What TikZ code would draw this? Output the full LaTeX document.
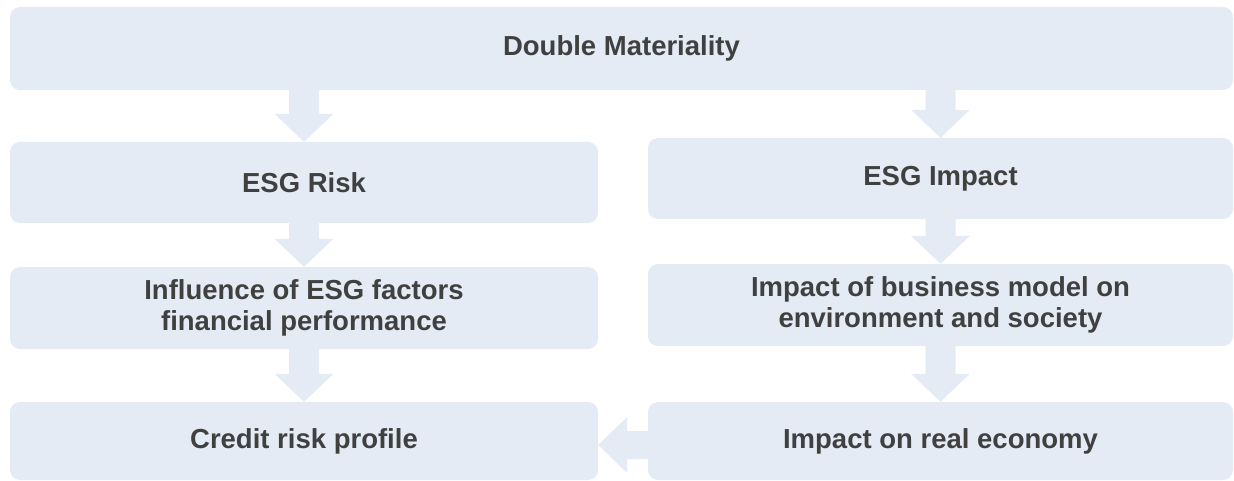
\documentclass[tikz,border=0pt]{standalone}
\usepackage{fontspec}
\setmainfont{Liberation Sans}
\usetikzlibrary{calc}
\definecolor{boxfill}{HTML}{E4EBF4}
\definecolor{ink}{HTML}{404040}
\tikzset{
  card/.style={fill=boxfill, draw=none, rounded corners=10pt, inner sep=0pt,
    align=center, text=ink, font=\fontsize{27.5}{31}\selectfont\bfseries},
  flow/.style={fill=boxfill, draw=none},
}
% broad downward block arrow from the bottom of #1 to the top of #2
\newcommand\fatdown[2]{%
  \fill[flow] let \p1=(#1.south), \p2=(#2.north) in
    (\x2-15pt,\y1) -- (\x2+15pt,\y1) -- (\x2+15pt,\y2+28pt) --
    (\x2+29.5pt,\y2+28pt) -- (\x2,\y2) -- (\x2-29.5pt,\y2+28pt) --
    (\x2-15pt,\y2+28pt) -- cycle;}
\begin{document}
\begin{tikzpicture}[x=1pt,y=-1pt]
  \useasboundingbox (0,0) rectangle (1234,481);

  \node[card, minimum width=1223pt, minimum height=83pt] (dm) at (621.5,48.5) {Double Materiality};

  % risk side
  \node[card, minimum width=588pt, minimum height=81pt] (risk) at (304,182.5) {ESG Risk};
  \node[card, minimum width=588pt, minimum height=82pt] (infl) at (304,308) {Influence of ESG factors\\financial performance};
  \node[card, minimum width=588pt, minimum height=78pt] (credit) at (304,441) {Credit risk profile};

  % impact side
  \node[card, minimum width=585pt, minimum height=81pt] (impact) at (940.5,178.5) {ESG Impact};
  \node[card, minimum width=585pt, minimum height=82pt] (biz) at (940.5,305) {Impact of business model on\\environment and society};
  \node[card, minimum width=585pt, minimum height=78pt] (real) at (940.5,441) {Impact on real economy};

  \fatdown{dm}{risk}
  \fatdown{risk}{infl}
  \fatdown{infl}{credit}
  \fatdown{dm}{impact}
  \fatdown{impact}{biz}
  \fatdown{biz}{real}

  % leftward block arrow from the real-economy box to the credit box
  \fill[flow] let \p1=(real.west), \p2=(credit.east) in
    (\x1,\y1+10pt) -- (\x2+29pt,\y1+10pt) -- (\x2+29pt,\y1+24pt) --
    (\x2,\y1-4pt) -- (\x2+29pt,\y1-32pt) -- (\x2+29pt,\y1-18pt) --
    (\x1,\y1-18pt) -- cycle;
\end{tikzpicture}
\end{document}
